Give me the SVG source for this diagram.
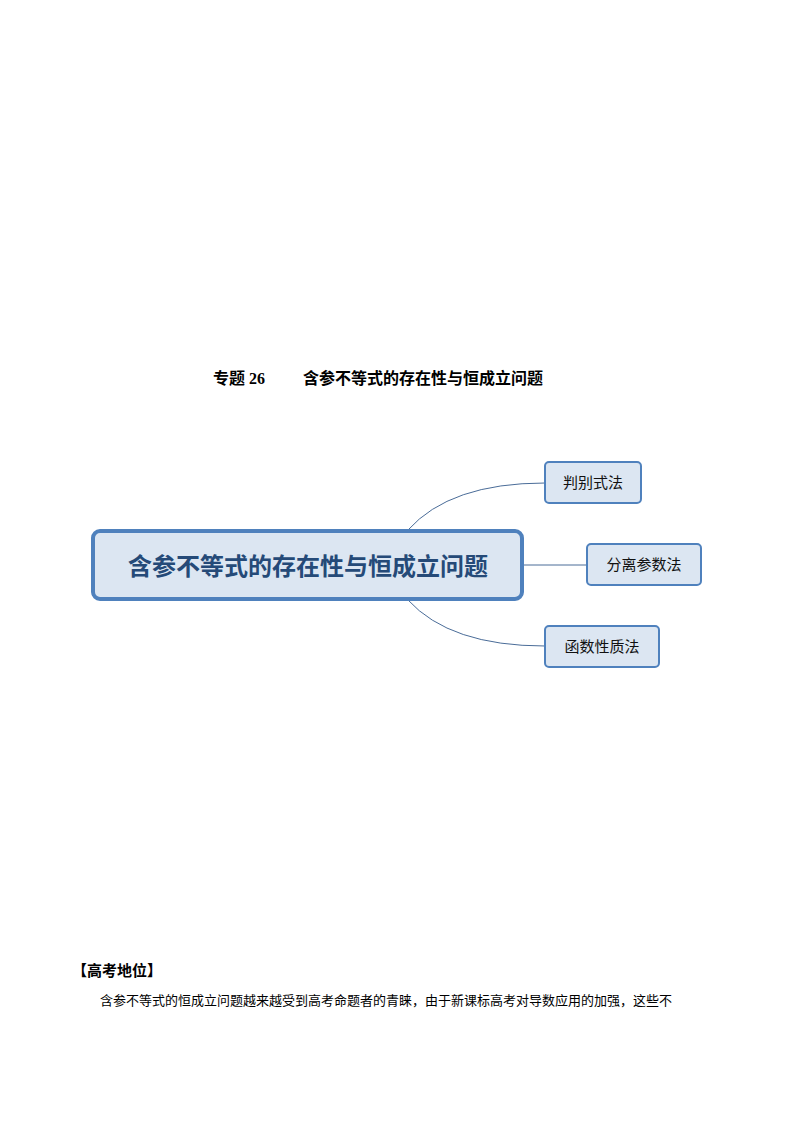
<svg xmlns="http://www.w3.org/2000/svg" width="794" height="1123" viewBox="0 0 794 1123">
<style>
.sub{fill:#dce6f2;stroke:#4f81bd;stroke-width:2}
.st{font-family:"Noto Sans CJK SC",sans-serif;font-size:15px;fill:#111;text-anchor:middle}
.c{fill:none;stroke:#4a6c98;stroke-width:1}
</style>
<rect width="794" height="1123" fill="#fff"/>
<text x="213" y="384" font-family="'Liberation Serif','Noto Sans CJK SC',serif" font-size="16" font-weight="bold">专题 26</text>
<text x="303" y="384" font-family="'Noto Sans CJK SC',sans-serif" font-size="16" font-weight="bold">含参不等式的存在性与恒成立问题</text>
<g id="connectors">
<path class="c" d="M408 530 Q450 483 545 483"/>
<path class="c" d="M523 565 L587 565"/>
<path class="c" d="M408 600 Q450 646 545 646"/>
</g>
<g id="central">
<rect x="93" y="531" width="429" height="68" rx="7" fill="#dce6f2" stroke="#4f81bd" stroke-width="4"/>
<text x="308" y="575" font-family="'Noto Sans CJK SC',sans-serif" font-size="24" font-weight="bold" fill="#254a78" text-anchor="middle">含参不等式的存在性与恒成立问题</text>
</g>
<g id="n1"><rect class="sub" x="545" y="462" width="96" height="41" rx="4"/><text class="st" x="593" y="488">判别式法</text></g>
<g id="n2"><rect class="sub" x="587" y="544" width="114" height="41" rx="4"/><text class="st" x="644" y="570">分离参数法</text></g>
<g id="n3"><rect class="sub" x="545" y="626" width="114" height="41" rx="4"/><text class="st" x="602" y="652">函数性质法</text></g>
<text x="72" y="976" font-family="'Noto Sans CJK SC',sans-serif" font-size="15" font-weight="bold">【高考地位】</text>
<text x="100" y="1005" font-family="'Noto Sans CJK SC',sans-serif" font-size="13">含参不等式的恒成立问题越来越受到高考命题者的青睐，由于新课标高考对导数应用的加强，这些不</text>
</svg>
